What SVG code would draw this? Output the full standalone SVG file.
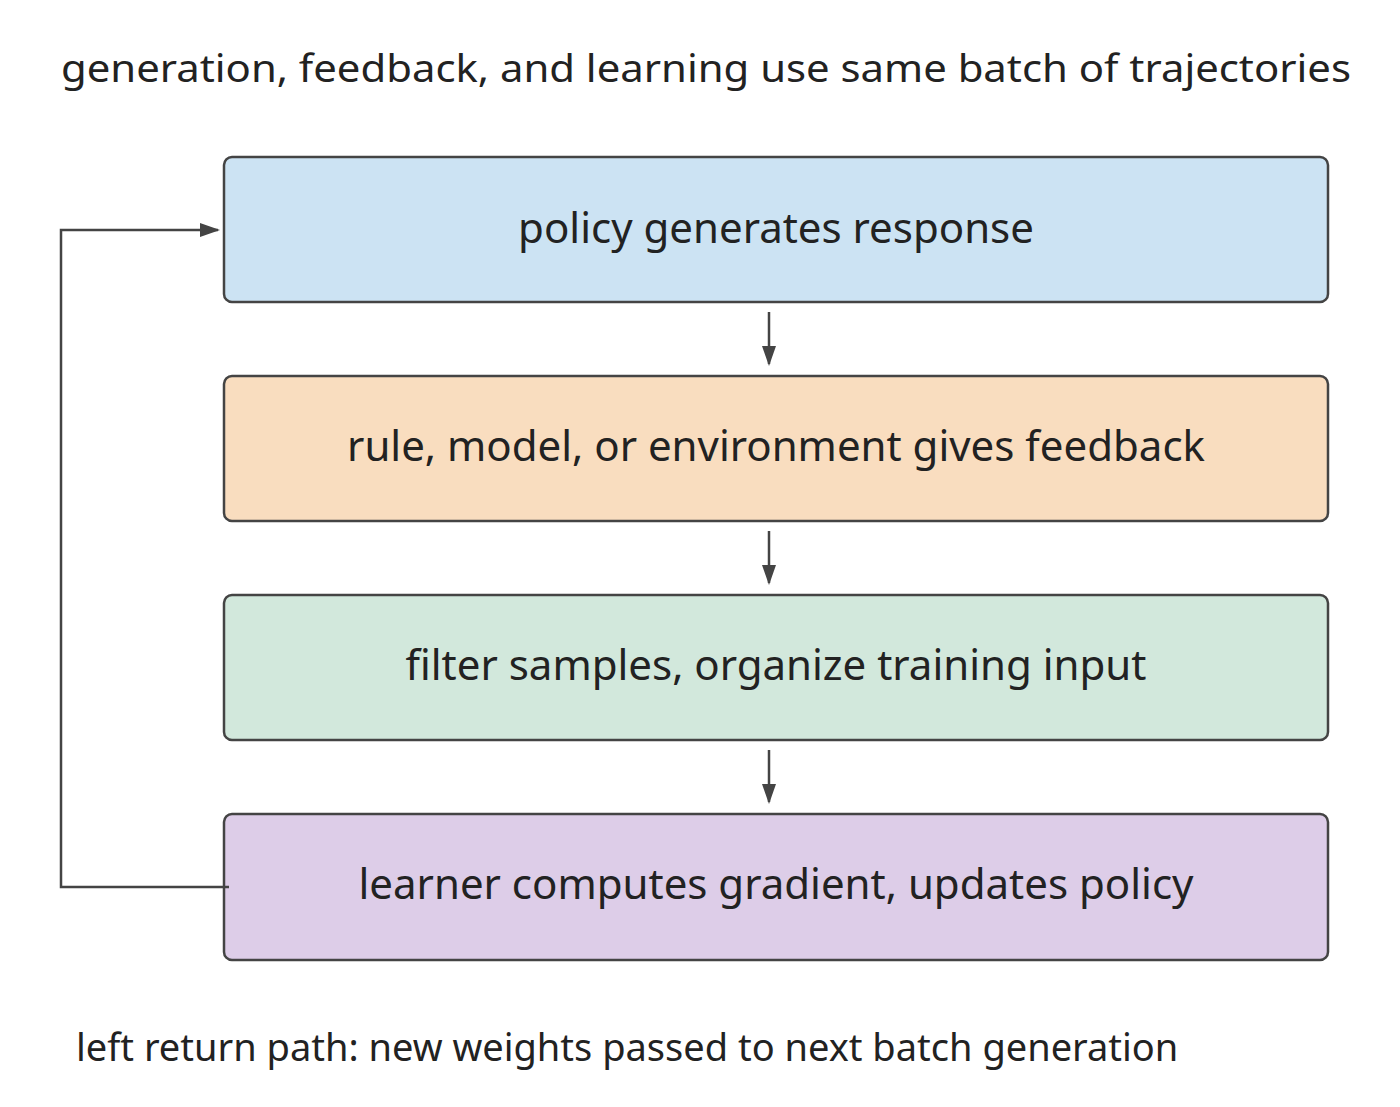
<svg xmlns="http://www.w3.org/2000/svg" width="1400" height="1107" viewBox="0 0 1400 1107">
<style>
text{font-family:"Noto Sans","Open Sans",sans-serif;fill:#222;font-size:42px}
.box{stroke:#444;stroke-width:2.5}
.c{stroke:#444;stroke-width:2.5;fill:none}
</style>
<defs><marker id="a" markerWidth="20" markerHeight="16" refX="18" refY="8" orient="auto" markerUnits="userSpaceOnUse"><path d="M0,1 L20,8 L0,15 z" fill="#444"/></marker></defs>
<rect width="1400" height="1107" fill="#fff"/>
<text x="706" y="82" text-anchor="middle" style="font-size:39px" textLength="1290" lengthAdjust="spacingAndGlyphs">generation, feedback, and learning use same batch of trajectories</text>
<g id="n1"><rect class="box" x="224" y="157" width="1104" height="145" rx="8" fill="#cce3f3"/><text x="776" y="243" text-anchor="middle">policy generates response</text></g>
<g id="n2"><rect class="box" x="224" y="376" width="1104" height="145" rx="8" fill="#f9ddbf"/><text x="776" y="461" text-anchor="middle">rule, model, or environment gives feedback</text></g>
<g id="n3"><rect class="box" x="224" y="595" width="1104" height="145" rx="8" fill="#d2e8dc"/><text x="776" y="680" text-anchor="middle">filter samples, organize training input</text></g>
<g id="n4"><rect class="box" x="224" y="814" width="1104" height="146" rx="8" fill="#ddcde8"/><text x="776" y="899" text-anchor="middle">learner computes gradient, updates policy</text></g>
<g id="connectors">
<line class="c" x1="769" y1="312" x2="769" y2="364" marker-end="url(#a)"/>
<line class="c" x1="769" y1="531" x2="769" y2="583" marker-end="url(#a)"/>
<line class="c" x1="769" y1="750" x2="769" y2="802" marker-end="url(#a)"/>
<polyline class="c" points="229,887 61,887 61,230 218,230" marker-end="url(#a)"/>
</g>
<text x="76" y="1061" style="font-size:38px">left return path: new weights passed to next batch generation</text>
</svg>
